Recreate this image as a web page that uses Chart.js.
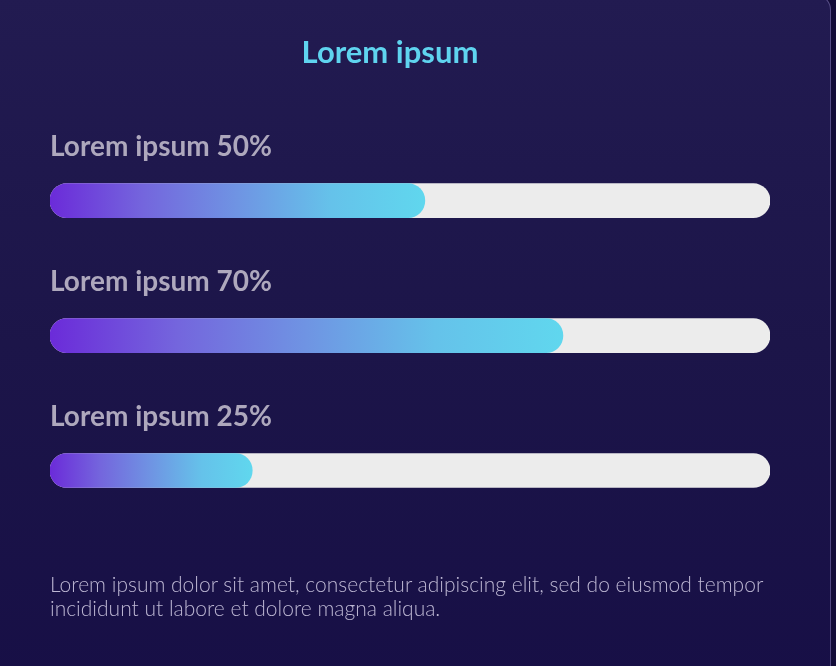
<!DOCTYPE html>
<html>
<head>
<meta charset="utf-8">
<script src="https://cdn.jsdelivr.net/npm/chart.js@4"></script>
<style>
  html, body { margin: 0; padding: 0; }
  body { width: 836px; height: 666px; overflow: hidden; background: #120b38; position: relative; font-family: Lato, "Open Sans", sans-serif; }
  #card { position: absolute; left: -30px; top: -6px; width: 861px; height: 700px; border-radius: 16px;
          background: linear-gradient(180deg, #221b51 0%, #1c1549 50%, #170f46 100%);
          border: 1px solid rgba(150,140,200,0.45); box-sizing: border-box; }
  #wrap { position: absolute; left: 0; top: 0; width: 780px; height: 666px; }
  #desc { position: absolute; left: 50px; top: 572px; width: 740px; margin: 0; color: #bdb7d3;
          font-family: Lato, sans-serif; font-weight: 300; font-size: 21px; line-height: 23.5px; }
</style>
</head>
<body>
<div id="card"></div>
<div id="wrap"><canvas id="c" width="780" height="666"></canvas></div>
<p id="desc"></p>
<script>
const titleText = "Lorem ipsum";
const categories = ["Lorem ipsum 50%", "Lorem ipsum 70%", "Lorem ipsum 25%"];
const values = [50, 70, 25];
const maxValue = 100;
const description = "Lorem ipsum dolor sit amet, consectetur adipiscing elit, sed do eiusmod tempor incididunt ut labore et dolore magna aliqua.";

document.getElementById('desc').textContent = description;

const axisMin = -4.3;

function fillGradient(ctx) {
  const chart = ctx.chart;
  const xs = chart.scales.x;
  const raw = ctx.raw;
  if (!xs || !raw || !chart.chartArea) return '#6d2ed8';
  const x0 = xs.getPixelForValue(raw[0]);
  const x1 = xs.getPixelForValue(raw[1]);
  if (!isFinite(x0) || !isFinite(x1) || x1 <= x0) return '#6d2ed8';
  const g = chart.ctx.createLinearGradient(x0, 0, x1, 0);
  g.addColorStop(0, '#6b2bd9');
  g.addColorStop(0.25, '#7466dd');
  g.addColorStop(0.5, '#6f94e3');
  g.addColorStop(0.75, '#65c2ea');
  g.addColorStop(1, '#60d7ee');
  return g;
}

const labelPlugin = {
  id: 'labelsAbove',
  afterDatasetsDraw(chart) {
    const { ctx, scales: { y }, chartArea } = chart;
    ctx.save();
    ctx.font = 'bold 28px Lato, sans-serif';
    ctx.fillStyle = '#aea8bd';
    ctx.textAlign = 'left';
    ctx.textBaseline = 'middle';
    categories.forEach((lab, i) => {
      const cy = y.getPixelForValue(i);
      ctx.fillText(lab, chartArea.left, cy - 54);
    });
    ctx.restore();
  }
};

new Chart(document.getElementById('c'), {
  type: 'bar',
  data: {
    labels: categories,
    datasets: [
      {
        label: 'value',
        data: values.map(v => [axisMin, v]),
        backgroundColor: fillGradient,
        borderRadius: 17,
        borderSkipped: false,
        barThickness: 34,
        grouped: false,
        order: 0
      },
      {
        label: 'track',
        data: values.map(() => [axisMin, maxValue]),
        backgroundColor: '#ececec',
        borderRadius: 17,
        borderSkipped: false,
        barThickness: 34,
        grouped: false,
        order: 1
      }
    ]
  },
  options: {
    indexAxis: 'y',
    responsive: false,
    animation: false,
    layout: { padding: { left: 10, right: 10, top: 0, bottom: 128 } },
    scales: {
      x: { min: axisMin, max: maxValue, display: false },
      y: {
        display: true,
        grid: { display: false },
        border: { display: false },
        ticks: { display: false },
        afterFit(scale) { scale.width = 40; }
      }
    },
    plugins: {
      legend: { display: false },
      tooltip: { enabled: false },
      title: {
        display: true,
        text: titleText,
        color: '#5fd4ef',
        font: { family: 'Lato, sans-serif', size: 31, weight: 'bold' },
        padding: { top: 34, bottom: 62 }
      }
    }
  },
  plugins: [labelPlugin]
});
</script>
</body>
</html>
